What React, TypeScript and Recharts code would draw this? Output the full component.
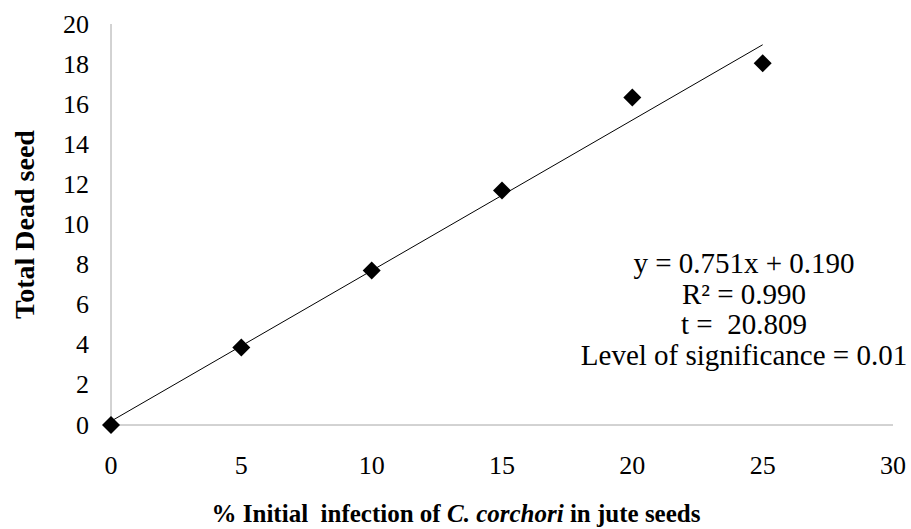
import React from 'react';
import { ScatterChart, Scatter, XAxis, YAxis } from 'recharts';

const infectionPct = [0, 5, 10, 15, 20, 25];
const deadSeed = [0, 3.86, 7.7, 11.69, 16.34, 18.04];

// linear trend line end points (y = 0.751x + 0.190)
const trendX = [0, 25];
const trendY = [0.19, 18.965];

const xTicks = [0, 5, 10, 15, 20, 25, 30];
const yTicks = [0, 2, 4, 6, 8, 10, 12, 14, 16, 18, 20];

const statLines = ['y = 0.751x + 0.190', 'R² = 0.990', 't =  20.809', 'Level of significance = 0.01'];

const points = infectionPct.map((x, i) => ({ x, y: deadSeed[i] }));
const trend = trendX.map((x, i) => ({ x, y: trendY[i] }));

const serif = "'Liberation Serif', 'Times New Roman', Times, serif";
const axisGray = '#a6a6a6';

const Diamond = (props: any) => {
    const { cx, cy } = props;
    const s = 9;
    return <polygon points={`${cx},${cy - s} ${cx + s},${cy} ${cx},${cy + s} ${cx - s},${cy}`} fill="#000" />;
};

const NoDot = () => null;

const Tick = (props: any) => {
    const { x, y, payload, anchor, dy } = props;
    return (
        <text x={x} y={y} dy={dy} textAnchor={anchor} dominantBaseline="central" style={{ fontFamily: serif }} fontSize={26} fill="#000">
            {payload.value}
        </text>
    );
};

const XTick = (props: any) => <Tick {...props} anchor="middle" dy={10} />;
const YTick = (props: any) => <Tick {...props} anchor="end" dy={0} />;

const XTitle = () => (
    <text x={456} y={522} textAnchor="middle" style={{ fontFamily: serif, whiteSpace: 'pre' }} fontSize={25} fontWeight="bold" fill="#000">
        <tspan>% Initial  infection of </tspan>
        <tspan fontStyle="italic">C. corchori</tspan>
        <tspan> in jute seeds</tspan>
    </text>
);

const YTitle = (props: any) => {
    const { viewBox } = props;
    const cx = 24;
    const cy = viewBox.y + viewBox.height / 2;
    return (
        <text x={cx} y={cy} transform={`rotate(-90, ${cx}, ${cy})`} textAnchor="middle" dominantBaseline="central"
            style={{ fontFamily: serif }} fontSize={28} fontWeight="bold" fill="#000">
            Total Dead seed
        </text>
    );
};

export default function App() {
    return (
        <div style={{ position: 'absolute', left: 0, top: 0, width: 911, height: 529, background: '#fff' }}>
            <ScatterChart width={911} height={529} margin={{ top: 24, right: 18, left: 0, bottom: 0 }}>
                <XAxis
                    type="number"
                    dataKey="x"
                    domain={[0, 30]}
                    ticks={xTicks}
                    height={104}
                    stroke={axisGray}
                    tickLine={false}
                    tickSize={0}
                    tickMargin={30}
                    tick={<XTick />}
                    label={<XTitle />}
                />
                <YAxis
                    type="number"
                    dataKey="y"
                    domain={[0, 20]}
                    ticks={yTicks}
                    width={111}
                    stroke={axisGray}
                    tickLine={false}
                    tickSize={0}
                    tickMargin={22}
                    tick={<YTick />}
                    label={<YTitle />}
                />
                <Scatter data={trend} line={{ stroke: '#000', strokeWidth: 1 }} shape={<NoDot />} isAnimationActive={false} />
                <Scatter data={points} shape={<Diamond />} isAnimationActive={false} />
            </ScatterChart>
            <div style={{ position: 'absolute', left: 544, top: 248, width: 400, textAlign: 'center', fontFamily: serif, fontSize: 29, lineHeight: '30.5px', color: '#000', whiteSpace: 'pre' }}>
                {statLines.map((s) => (
                    <div key={s}>{s}</div>
                ))}
            </div>
        </div>
    );
}
